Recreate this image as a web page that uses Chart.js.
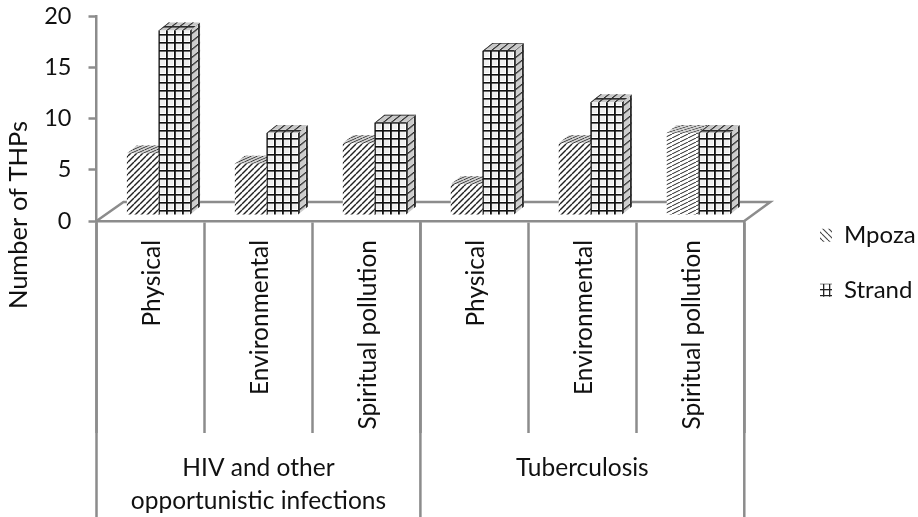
<!DOCTYPE html>
<html>
<head>
<meta charset="utf-8">
<style>html,body{margin:0;padding:0;background:#fff}canvas{display:block}</style>
<script src="https://cdn.jsdelivr.net/npm/chart.js@4"></script>
</head>
<body>
<canvas id="c" width="918" height="517" style="width:918px;height:517px"></canvas>
<script>
const categories = ["Physical","Environmental","Spiritual pollution","Physical","Environmental","Spiritual pollution"];
const groupLabels = [["HIV and other","opportunistic infections"],["Tuberculosis"]];
const groupSizes = [3,3];
const mpoza = [6,5,7,3,7,8];
const strand = [18,8,9,16,11,8];
const seriesNames = ["Mpoza","Strand"];
const yTicks = [0,5,10,15,20];
const yTitle = "Number of THPs";

const FONT = "Lato";
const GRAY = "#8c8c8c";
const INK = "#111";
const DX = 10, DY = -8, SHIFT_X = 8, SHIFT_Y = -6;

function tile(w,h,draw,offX,offY){
  const cv=document.createElement('canvas');cv.width=w;cv.height=h;
  const g=cv.getContext('2d');g.fillStyle='#fff';g.fillRect(0,0,w,h);draw(g,w,h);
  const p=document.createElement('canvas').getContext('2d').createPattern(cv,'repeat');
  if(offX||offY)p.setTransform(new DOMMatrix().translate(offX||0,offY||0));
  return p;
}
function stripes(w,h,lw){
  return tile(w,h,(g)=>{
    g.strokeStyle='#222';g.lineWidth=lw;
    for(const k of [-1,0,1]){g.beginPath();g.moveTo(k*w,h);g.lineTo(k*w+w,0);g.stroke();}
  });
}
function grid(off){
  return tile(8,8,(g)=>{
    g.fillStyle='#efefef';g.fillRect(1,1,6,6);
    g.fillStyle='#111';g.fillRect(0,0,1.8,8);g.fillRect(0,0,8,1.6);
  },off,0);
}
const stripeNormal = stripes(6,6,1.4);
const stripeDense = stripes(8,4,1);
const mpozaFill = [stripeNormal,stripeNormal,stripeNormal,stripeNormal,stripeNormal,stripeDense];
const strandFill = [grid(6),grid(2),grid(6),grid(2),grid(6),grid(2)];
const legendMpoza = tile(6,6,(g)=>{g.strokeStyle='#444';g.lineWidth=1.1;for(const k of [-1,0,1]){g.beginPath();g.moveTo(k*6,0);g.lineTo(k*6+6,6);g.stroke();}});
const legendStrand = tile(6,6,(g)=>{g.fillStyle='#222';g.fillRect(1,0,1.3,6);g.fillRect(0,1,6,1.3);});

function face(ctx,a,b,c,e,f,x,y,w,h,fill,shade){
  ctx.save();ctx.transform(a,b,c,1,e,f);
  ctx.fillStyle='#fff';ctx.fillRect(x,y,w,h);
  ctx.fillStyle=fill;ctx.fillRect(x,y,w,h);
  if(shade){ctx.fillStyle=shade;ctx.fillRect(x,y,w,h);}
  ctx.restore();
}

const depthPlugin = {
  id:'depth',
  beforeDatasetsDraw(chart){
    const {ctx,chartArea:a}=chart, b=a.bottom;
    ctx.save();
    ctx.strokeStyle=GRAY;ctx.lineWidth=2.5;ctx.lineJoin='miter';
    ctx.beginPath();ctx.moveTo(a.left,b);ctx.lineTo(a.left+27,b-19);ctx.lineTo(a.right+26,b-19);ctx.lineTo(a.right,b);ctx.stroke();
    ctx.restore();
    ctx.save();ctx.translate(SHIFT_X,SHIFT_Y);
    chart.data.datasets.forEach((ds,di)=>{
      chart.getDatasetMeta(di).data.forEach((bar,i)=>{
        const w=bar.width,l=bar.x-w/2,r=bar.x+w/2,t=bar.y,bs=bar.base,fill=ds.backgroundColor[i];
        const k=DY/DX, q=DX/DY;
        face(ctx,1,k,0,0,-k*r,r,t,DX,bs-t,fill,'rgba(120,120,120,0.28)');
        face(ctx,1,0,q,-q*t,0,l,t+DY,w,-DY,fill,'rgba(110,110,110,0.30)');
      });
    });
  },
  afterDatasetsDraw(chart){
    const {ctx,chartArea:a}=chart,x=chart.scales.x;
    ctx.restore();
    ctx.save();
    ctx.strokeStyle=GRAY;ctx.lineWidth=2.5;
    let start=0;
    const edges=[x.left];
    groupSizes.forEach(n=>{start+=n;edges.push(x.left+(x.right-x.left)*start/categories.length);});
    ctx.beginPath();
    edges.forEach(e=>{ctx.moveTo(e,a.bottom);ctx.lineTo(e,517);});
    ctx.stroke();
    ctx.fillStyle=INK;ctx.font='24.5px '+FONT;ctx.textAlign='center';ctx.textBaseline='middle';
    groupLabels.forEach((lines,g)=>{
      const cx=(edges[g]+edges[g+1])/2;
      lines.forEach((s,j)=>ctx.fillText(s,cx,468+j*33));
    });
    ctx.translate(19,215);ctx.rotate(-Math.PI/2);
    ctx.font='25.5px '+FONT;
    ctx.fillText(yTitle,0,0);
    ctx.restore();
  }
};
const legendMove = {
  id:'legendMove',
  afterLayout(chart){
    const L=chart.legend;
    L.left=820-L.options.labels.padding;
    L.right=918;
    L.top=L.top-7.5;
  }
};

new Chart(document.getElementById('c'),{
  type:'bar',
  data:{labels:categories,datasets:[
    {label:seriesNames[0],data:mpoza,backgroundColor:mpozaFill,borderWidth:0,categoryPercentage:0.585,barPercentage:1,clip:false},
    {label:seriesNames[1],data:strand,backgroundColor:strandFill,borderWidth:0,categoryPercentage:0.585,barPercentage:1,clip:false}
  ]},
  plugins:[depthPlugin,legendMove],
  options:{
    responsive:false,animation:false,
    layout:{padding:{top:16,right:37,left:0,bottom:0}},
    plugins:{
      tooltip:{enabled:false},
      legend:{position:'right',labels:{
        color:INK,font:{family:FONT,size:24},boxWidth:12,boxHeight:13,padding:31,
        generateLabels(){return [
          {text:seriesNames[0],fillStyle:legendMpoza,strokeStyle:'transparent',lineWidth:0,fontColor:INK,datasetIndex:0},
          {text:seriesNames[1],fillStyle:legendStrand,strokeStyle:'transparent',lineWidth:0,fontColor:INK,datasetIndex:1}
        ];}
      }}
    },
    scales:{
      x:{
        afterFit(s){s.height=296;},
        border:{color:GRAY,width:2.5},
        grid:{drawOnChartArea:false,color:GRAY,tickColor:GRAY,tickLength:212,tickWidth:2.5,offset:true},
        ticks:{autoSkip:false,minRotation:90,maxRotation:90,color:INK,font:{family:FONT,size:24.5},padding:-193,labelOffset:1.5}
      },
      y:{
        min:0,max:20,
        afterFit(s){s.width=96.5;s.paddingTop=0;s.paddingBottom=0;},
        afterBuildTicks(s){s.ticks=yTicks.map(v=>({value:v}));},
        border:{color:GRAY,width:2.5},
        grid:{drawOnChartArea:false,tickColor:GRAY,tickLength:8,tickWidth:2.5},
        ticks:{color:INK,font:{family:FONT,size:23.5},padding:17}
      }
    }
  }
});
</script>
</body>
</html>
